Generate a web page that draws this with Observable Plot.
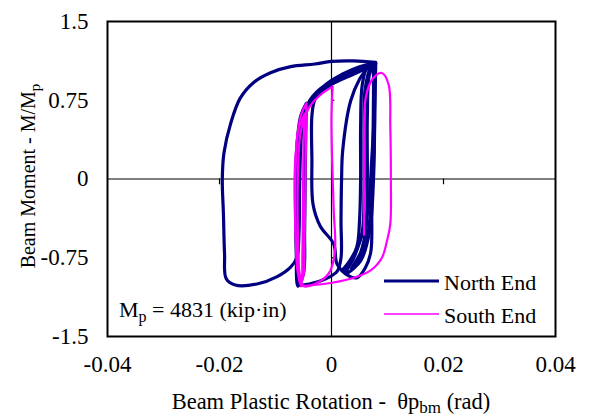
<!DOCTYPE html>
<html><head><meta charset="utf-8">
<script src="https://cdn.jsdelivr.net/npm/d3@7"></script>
<script src="https://cdn.jsdelivr.net/npm/@observablehq/plot@0.6"></script>
<style>
body{margin:0;background:#fff;}
#chart{width:590px;height:416px;}
</style></head><body><div id="chart"></div>
<script>
const xTicks = [-0.04, -0.02, 0, 0.02, 0.04];
const yTicks = [-1.5, -0.75, 0, 0.75, 1.5];
const seriesNames = ["North End", "South End"];
const seriesColors = ["#000080", "#ff00ff"];

// North End loops [rotation, M/Mp]
const northBig = [[0.0079,1.11],[0.004,1.125],[0.0,1.12],[-0.003,1.095],[-0.0073,1.07],[-0.011,1.01],[-0.0139,0.92],[-0.0163,0.77],[-0.018,0.53],[-0.0192,0.25],[-0.0195,0.0],[-0.0193,-0.33],[-0.0191,-0.71],[-0.0188,-0.95],[-0.0172,-1.01],[-0.0133,-1.0],[-0.0097,-0.93],[-0.0073,-0.84],[-0.0062,-0.75],[-0.0058,-0.5],[-0.0057,-0.1],[-0.0055,0.3],[-0.0051,0.56],[-0.0042,0.72],[-0.002,0.86],[0.002,0.98],[0.0055,1.06],[0.0079,1.1]];
const northLoop1 = [[0.0065,1.06],[0.004,1.0],[0.0,0.9],[-0.003,0.78],[-0.005,0.62],[-0.0058,0.4],[-0.006,0.0],[-0.006,-0.5],[-0.006,-0.85],[-0.0058,-1.0],[-0.004,-1.0],[-0.001,-0.95],[0.001,-0.88],[0.0017,-0.75],[0.0017,-0.4],[0.0018,0.0],[0.002,0.27],[0.0034,0.74],[0.005,0.95],[0.0065,1.06]];
const northLoop2 = [[0.0075,1.1],[0.005,1.07],[0.002,1.0],[-0.001,0.9],[-0.003,0.75],[-0.0035,0.6],[-0.0035,0.2],[-0.0033,-0.24],[-0.002,-0.45],[0.0004,-0.62],[0.001,-0.81],[0.003,-0.92],[0.0046,-0.94],[0.006,-0.85],[0.007,-0.7],[0.0072,-0.3],[0.0074,0.3],[0.0075,0.8],[0.0075,1.1]];
const northLoop3 = [[0.0079,1.1],[0.0065,1.08],[0.0055,0.9],[0.0052,0.5],[0.0052,0.0],[0.005,-0.4],[0.0045,-0.65],[0.0025,-0.85],[0.0019,-0.87],[0.003,-0.8],[0.005,-0.6],[0.0065,-0.3],[0.0072,0.2],[0.0077,0.7],[0.0079,1.1]];
const northLoop4 = [[0.0078,1.09],[0.007,1.06],[0.006,0.85],[0.0058,0.4],[0.0058,-0.1],[0.0055,-0.5],[0.004,-0.75],[0.0025,-0.9],[0.004,-0.85],[0.006,-0.65],[0.007,-0.3],[0.0076,0.3],[0.0078,1.09]];
const northLoop5 = [[-0.0045,0.72],[-0.0055,0.6],[-0.0062,0.3],[-0.0064,-0.2],[-0.0063,-0.7],[-0.006,-1.02],[-0.005,-0.9],[-0.0048,-0.5],[-0.0047,0.0],[-0.0046,0.4],[-0.0045,0.72]];
const northLoop6 = [[0.0076,1.08],[0.0068,1.0],[0.0064,0.6],[0.0064,0.0],[0.0062,-0.45],[0.0052,-0.7],[0.0035,-0.86],[0.0052,-0.78],[0.0068,-0.5],[0.0075,0.0],[0.0077,0.6],[0.0076,1.08]];

// South End loops [rotation, M/Mp]
const southLoop1 = [[-0.0045,0.72],[-0.0055,0.6],[-0.0063,0.3],[-0.0066,0.0],[-0.0065,-0.4],[-0.0061,-0.8],[-0.0056,-1.0],[-0.005,-0.92],[-0.0048,-0.6],[-0.0047,-0.2],[-0.0046,0.2],[-0.0045,0.5],[-0.0045,0.72]];
const southLoop2 = [[-0.0048,0.62],[-0.006,0.45],[-0.0064,0.1],[-0.0064,-0.5],[-0.006,-0.9],[-0.0054,-0.98],[-0.0052,-0.7],[-0.0051,-0.2],[-0.005,0.3],[-0.0048,0.62]];
const southLoop3 = [[0.0002,0.88],[-0.002,0.8],[-0.004,0.68],[-0.0055,0.45],[-0.006,0.0],[-0.006,-0.5],[-0.0057,-0.9],[-0.005,-1.02],[-0.003,-1.0],[-0.0005,-0.9],[0.0006,-0.7],[0.0004,-0.3],[0.0001,0.2],[0.0,0.6],[0.0002,0.88]];
const southLoop4 = [[0.0058,-0.53],[0.0058,0.0],[0.0058,0.36],[0.0061,0.77],[0.0073,0.95],[0.009,1.01],[0.0102,0.9],[0.0105,0.5],[0.0106,0.0],[0.0105,-0.43],[0.0099,-0.59],[0.009,-0.75],[0.007,-0.87],[0.0034,-0.95],[-0.0014,-1.0],[-0.0055,-1.02]];

const northLoops = [northBig, northLoop1, northLoop2, northLoop3, northLoop4, northLoop5, northLoop6];
const southLoops = [southLoop1, southLoop2, southLoop3, southLoop4];

function toRows(loops, name) {
  const rows = [];
  loops.forEach((loop, i) => loop.forEach(([x, y]) => rows.push({series: name, loop: name + i, x, y})));
  return rows;
}
const northData = toRows(northLoops, seriesNames[0]);
const southData = toRows(southLoops, seriesNames[1]);

const FONT = '"Times New Roman", "Liberation Serif", serif';

const chart = Plot.plot({
  width: 590, height: 416,
  marginLeft: 107, marginRight: 35, marginTop: 21, marginBottom: 80,
  style: {fontFamily: FONT, fontSize: "22px", color: "black", background: "white"},
  x: {domain: [-0.04, 0.04], axis: null},
  y: {domain: [-1.5, 1.5], axis: null},
  marks: [
    Plot.ruleX([0], {stroke: "black", strokeWidth: 1.2}),
    Plot.ruleY([0], {stroke: "black", strokeWidth: 1.2}),
    Plot.ruleX(xTicks.filter(d => d !== 0 && Math.abs(d) < 0.04), {x: d => d, y1: 0, y2: -0.055, stroke: "black", strokeWidth: 1.2}),
    Plot.ruleY(yTicks.filter(d => d !== 0 && Math.abs(d) < 1.5), {y: d => d, x1: 0, x2: 0.0006, stroke: "black", strokeWidth: 1.2}),
    Plot.line(northData, {x: "x", y: "y", z: "loop", stroke: seriesColors[0], strokeWidth: 3.2, curve: "catmull-rom"}),
    Plot.line(southData, {x: "x", y: "y", z: "loop", stroke: seriesColors[1], strokeWidth: 2.2, curve: "catmull-rom"}),
    Plot.frame({stroke: "black", strokeWidth: 2}),
    Plot.text(xTicks, {x: d => d, frameAnchor: "bottom", dy: 35, text: d => String(d), fontSize: 23, fontFamily: FONT, fill: "black"}),
    Plot.text(yTicks, {y: d => d, frameAnchor: "left", dx: -19, textAnchor: "end", text: d => String(d), fontSize: 23, fontFamily: FONT, fill: "black"})
  ]
});
document.getElementById("chart").appendChild(chart);

const svg = d3.select(chart);
function addText(x, y, size, anchor) {
  return svg.append("text").attr("x", x).attr("y", y).attr("text-anchor", anchor)
    .style("font-family", FONT).style("font-size", size + "px").attr("fill", "black");
}
// y-axis title
const yt = svg.append("text").attr("transform", "translate(35,176) rotate(-90)")
  .attr("text-anchor", "middle").style("font-family", FONT).style("font-size", "20px").attr("fill", "black");
yt.append("tspan").text("Beam Moment - M/M");
yt.append("tspan").style("font-size", "15px").attr("dy", 5).text("p");
// x-axis title
const xt = addText(331, 409, 22.5, "middle");
xt.append("tspan").text("Beam Plastic Rotation -  θp");
xt.append("tspan").style("font-size", "17px").attr("dy", 4).text("bm");
xt.append("tspan").attr("dy", -4).text(" (rad)");
// Mp annotation
const mp = addText(119, 317, 22, "start");
mp.append("tspan").text("M");
mp.append("tspan").style("font-size", "16px").attr("dy", 5).text("p");
mp.append("tspan").attr("dy", -5).text(" = 4831 (kip·in)");
// legend
const leg = [{y: 281, w: 3}, {y: 314, w: 1.5}];
seriesNames.forEach((name, i) => {
  svg.append("line").attr("x1", 384).attr("x2", 439).attr("y1", leg[i].y).attr("y2", leg[i].y)
    .attr("stroke", seriesColors[i]).attr("stroke-width", leg[i].w);
  addText(444, leg[i].y + 8.5, 22, "start").text(name);
});
</script></body></html>
